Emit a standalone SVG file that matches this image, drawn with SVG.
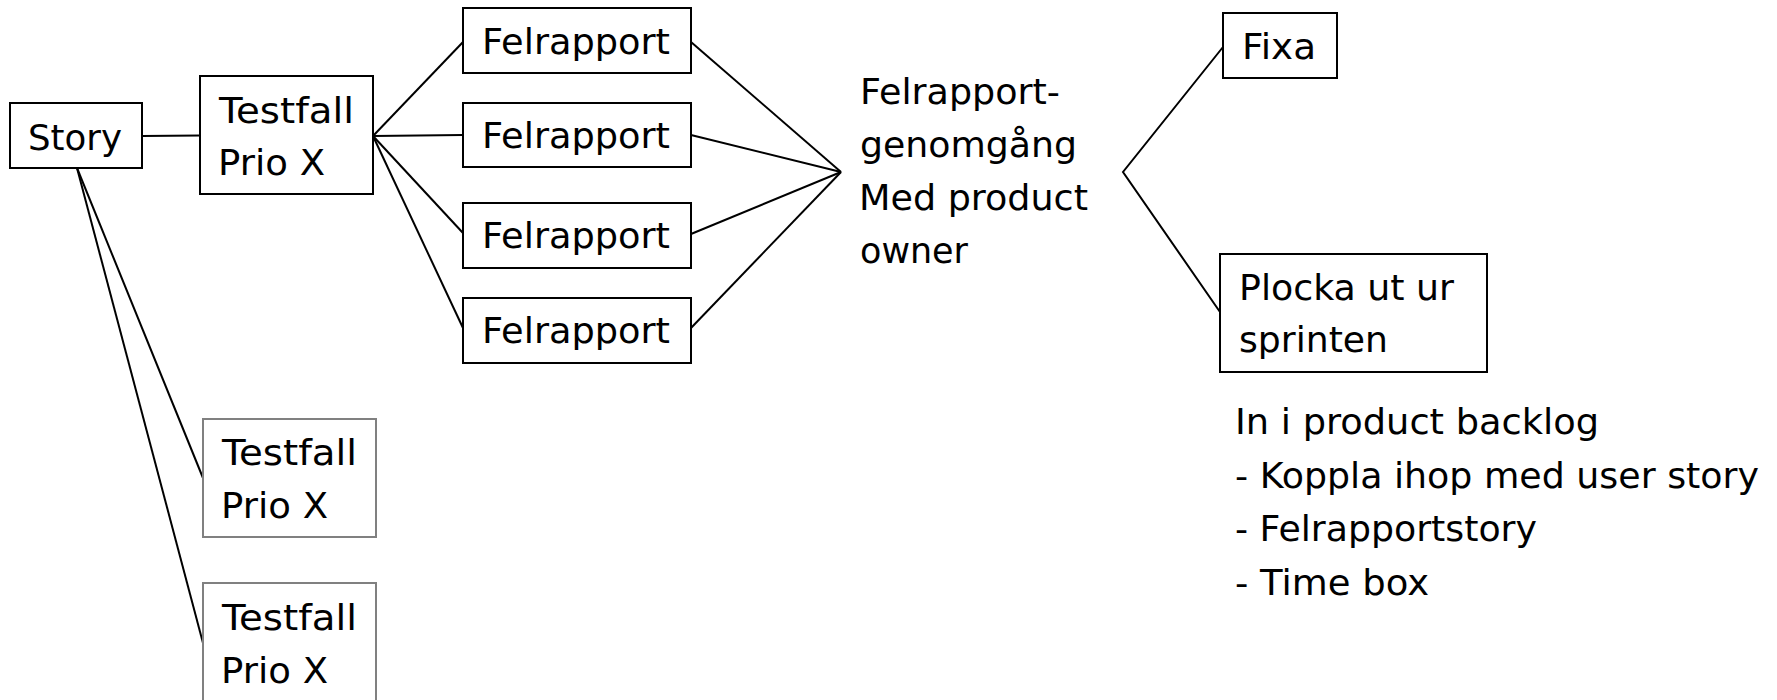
<svg xmlns="http://www.w3.org/2000/svg" width="1777" height="700" viewBox="0 0 1777 700">
<style>
.box{fill:#fff;stroke:#000;stroke-width:2}
.gbox{fill:#fff;stroke:#808080;stroke-width:2}
.t{font-family:"DejaVu Sans",sans-serif;font-size:35px;fill:#000}
.c{stroke:#000;stroke-width:2;fill:none}
</style>
<rect width="1777" height="700" fill="#fff"/>
<g id="connectors">
<line class="c" x1="142" y1="136" x2="200" y2="135.5"/>
<line class="c" x1="77" y1="168" x2="203" y2="478"/>
<line class="c" x1="77" y1="168" x2="203" y2="643"/>
<line class="c" x1="373" y1="136" x2="463" y2="42"/>
<line class="c" x1="373" y1="136" x2="463" y2="135"/>
<line class="c" x1="373" y1="136" x2="463" y2="233"/>
<line class="c" x1="373" y1="136" x2="463" y2="328"/>
<line class="c" x1="691" y1="42" x2="841" y2="172"/>
<line class="c" x1="691" y1="135" x2="841" y2="172"/>
<line class="c" x1="691" y1="234" x2="841" y2="172"/>
<line class="c" x1="691" y1="328" x2="841" y2="172"/>
<polyline class="c" points="1223,47 1123,172 1220,312"/>
</g>
<g id="story">
<rect class="box" x="10" y="103" width="132" height="65"/>
<text class="t" x="28" y="150" textLength="94" lengthAdjust="spacingAndGlyphs">Story</text>
</g>
<g id="testfall1">
<rect class="box" x="200" y="76" width="173" height="118"/>
<text class="t" x="219" y="123" textLength="135" lengthAdjust="spacingAndGlyphs">Testfall</text>
<text class="t" x="218" y="175" textLength="107" lengthAdjust="spacingAndGlyphs">Prio X</text>
</g>
<g id="testfall2">
<rect class="gbox" x="203" y="419" width="173" height="118"/>
<text class="t" x="222" y="465" textLength="135" lengthAdjust="spacingAndGlyphs">Testfall</text>
<text class="t" x="221" y="518" textLength="107" lengthAdjust="spacingAndGlyphs">Prio X</text>
</g>
<g id="testfall3">
<rect class="gbox" x="203" y="583" width="173" height="118"/>
<text class="t" x="222" y="630" textLength="135" lengthAdjust="spacingAndGlyphs">Testfall</text>
<text class="t" x="221" y="683" textLength="107" lengthAdjust="spacingAndGlyphs">Prio X</text>
</g>
<g id="felrapport1">
<rect class="box" x="463" y="8" width="228" height="65"/>
<text class="t" x="482" y="54" textLength="188" lengthAdjust="spacingAndGlyphs">Felrapport</text>
</g>
<g id="felrapport2">
<rect class="box" x="463" y="103" width="228" height="64"/>
<text class="t" x="482" y="148" textLength="188" lengthAdjust="spacingAndGlyphs">Felrapport</text>
</g>
<g id="felrapport3">
<rect class="box" x="463" y="203" width="228" height="65"/>
<text class="t" x="482" y="248" textLength="188" lengthAdjust="spacingAndGlyphs">Felrapport</text>
</g>
<g id="felrapport4">
<rect class="box" x="463" y="298" width="228" height="65"/>
<text class="t" x="482" y="343" textLength="188" lengthAdjust="spacingAndGlyphs">Felrapport</text>
</g>
<g id="genomgang">
<text class="t" x="860" y="104" textLength="200" lengthAdjust="spacingAndGlyphs">Felrapport-</text>
<text class="t" x="860" y="157" textLength="217" lengthAdjust="spacingAndGlyphs">genomgång</text>
<text class="t" x="859" y="210" textLength="229" lengthAdjust="spacingAndGlyphs">Med product</text>
<text class="t" x="860" y="263" textLength="108" lengthAdjust="spacingAndGlyphs">owner</text>
</g>
<g id="fixa">
<rect class="box" x="1223" y="13" width="114" height="65"/>
<text class="t" x="1242" y="59" textLength="74" lengthAdjust="spacingAndGlyphs">Fixa</text>
</g>
<g id="plocka">
<rect class="box" x="1220" y="254" width="267" height="118"/>
<text class="t" x="1239" y="300" textLength="215" lengthAdjust="spacingAndGlyphs">Plocka ut ur</text>
<text class="t" x="1239" y="352" textLength="149" lengthAdjust="spacingAndGlyphs">sprinten</text>
</g>
<g id="backlog">
<text class="t" x="1235" y="434" textLength="364" lengthAdjust="spacingAndGlyphs">In i product backlog</text>
<text class="t" x="1235" y="488" textLength="524" lengthAdjust="spacingAndGlyphs">- Koppla ihop med user story</text>
<text class="t" x="1235" y="541" textLength="302" lengthAdjust="spacingAndGlyphs">- Felrapportstory</text>
<text class="t" x="1235" y="595" textLength="194" lengthAdjust="spacingAndGlyphs">- Time box</text>
</g>
</svg>
